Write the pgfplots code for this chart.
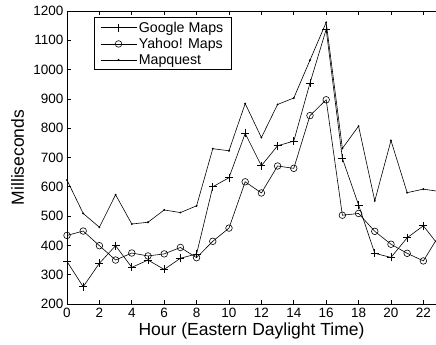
\documentclass[border=0pt]{standalone}
\usepackage{pgfplots}
\pgfplotsset{compat=1.18}
\usepackage{fontspec}
\setmainfont{Liberation Sans}
\begin{document}
\begin{tikzpicture}
\begin{axis}[
  at={(0,0)}, anchor=south west,
  scale only axis,
  width=369pt, height=293pt,
  xmin=0, xmax=22.78, ymin=200, ymax=1200,
  xtick={0,2,...,22}, ytick={200,300,...,1200},
  separate axis lines,
  axis x line=box, axis y line=left,
  x axis line style={-, line width=0.8pt},
  y axis line style={-, line width=0.8pt},
  tick align=inside, major tick length=4pt,
  tick style={black, line width=0.6pt},
  /pgf/number format/assume math mode=true,
  /pgf/number format/1000 sep={},
  ticklabel style={font=\fontsize{13.5}{15}\selectfont},
  xticklabel style={yshift=-1pt},
  xlabel={Hour (Eastern Daylight Time)},
  ylabel={Milliseconds},
  xlabel style={at={(rel axis cs:0.5,-0.0922)}, anchor=center, font=\fontsize{17.5}{20}\selectfont},
  ylabel style={at={(rel axis cs:-0.1341,0.5)}, anchor=center, font=\fontsize{17.5}{20}\selectfont},
  clip=true,
  legend style={at={(rel axis cs:0.073,0.978)}, anchor=north west, draw=black, line width=0.6pt, fill=white,
    font=\fontsize{14.2}{16}\selectfont, row sep=0.5pt, inner sep=2pt, inner xsep=6pt},
  legend cell align=left,
  legend image code/.code={\draw[mark repeat=2,mark phase=2,#1] plot coordinates {(0pt,0pt)(18pt,0pt)(36pt,0pt)};},
]
\addplot[black, line width=0.6pt, mark=+, mark size=4pt] coordinates {
(0,345)(1,259)(2,339)(3,399)(4,325)(5,350)(6,318)(7,356)(8,371)(9,600)(10,631)(11,782)
(12,672)(13,740)(14,756)(15,954)(16,1137)(17,697)(18,538)(19,373)(20,359)(21,426)(22,467)(23,396)};
\addlegendentry{Google Maps}
\addplot[black, line width=0.6pt, mark=o, mark size=3.3pt, mark options={line width=0.6pt}] coordinates {
(0,434)(1,449)(2,399)(3,350)(4,374)(5,364)(6,371)(7,393)(8,358)(9,414)(10,459)(11,617)
(12,579)(13,671)(14,663)(15,843)(16,897)(17,503)(18,509)(19,448)(20,404)(21,373)(22,347)(23,437)};
\addlegendentry{Yahoo! Maps}
\addplot[black, line width=0.6pt, mark=*, mark size=0.6pt] coordinates {
(0,623)(1,509)(2,462)(3,573)(4,473)(5,479)(6,521)(7,512)(8,535)(9,730)(10,723)(11,884)
(12,768)(13,881)(14,903)(15,1032)(16,1161)(17,731)(18,807)(19,552)(20,758)(21,580)(22,592)(23,584)};
\addlegendentry{Mapquest}
\end{axis}
\pgfresetboundingbox
\path (-67pt,-41pt) rectangle (369pt,304pt);
\end{tikzpicture}
\end{document}
